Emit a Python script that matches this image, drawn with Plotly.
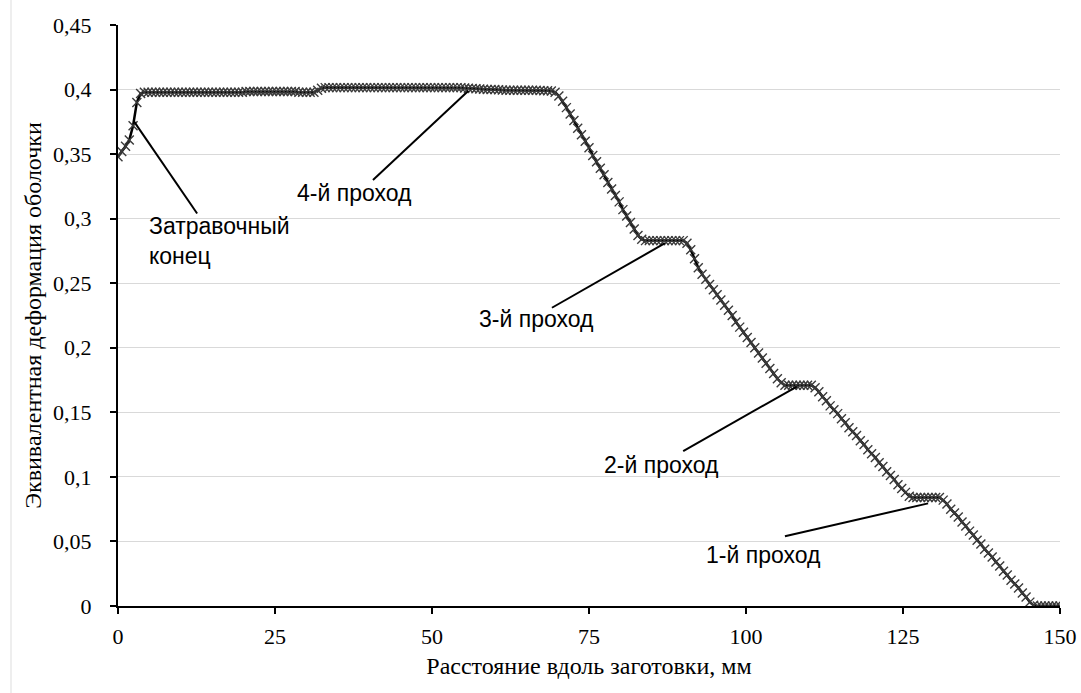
import plotly.graph_objects as go

# Distance along the billet, mm (sampling positions of the curve)
x_mm = [
    0.0, 0.6, 1.2, 1.8, 2.4, 3.0, 3.6, 4.2, 4.8, 5.4,
    6.0, 6.6, 7.2, 7.8, 8.4, 9.0, 9.6, 10.2, 10.8, 11.4,
    12.0, 12.6, 13.2, 13.8, 14.4, 15.0, 15.6, 16.2, 16.8, 17.4,
    18.0, 18.6, 19.2, 19.8, 20.4, 21.0, 21.6, 22.2, 22.8, 23.4,
    24.0, 24.6, 25.2, 25.8, 26.4, 27.0, 27.6, 28.2, 28.8, 29.4,
    30.0, 30.6, 31.2, 31.8, 32.4, 33.0, 33.6, 34.2, 34.8, 35.4,
    36.0, 36.6, 37.2, 37.8, 38.4, 39.0, 39.6, 40.2, 40.8, 41.4,
    42.0, 42.6, 43.2, 43.8, 44.4, 45.0, 45.6, 46.2, 46.8, 47.4,
    48.0, 48.6, 49.2, 49.8, 50.4, 51.0, 51.6, 52.2, 52.8, 53.4,
    54.0, 54.6, 55.2, 55.8, 56.4, 57.0, 57.6, 58.2, 58.8, 59.4,
    60.0, 60.6, 61.2, 61.8, 62.4, 63.0, 63.6, 64.2, 64.8, 65.4,
    66.0, 66.6, 67.2, 67.8, 68.4, 69.0, 69.6, 70.2, 70.8, 71.4,
    72.0, 72.6, 73.2, 73.8, 74.4, 75.0, 75.6, 76.2, 76.8, 77.4,
    78.0, 78.6, 79.2, 79.8, 80.4, 81.0, 81.6, 82.2, 82.8, 83.4,
    84.0, 84.6, 85.2, 85.8, 86.4, 87.0, 87.6, 88.2, 88.8, 89.4,
    90.0, 90.6, 91.2, 91.8, 92.4, 93.0, 93.6, 94.2, 94.8, 95.4,
    96.0, 96.6, 97.2, 97.8, 98.4, 99.0, 99.6, 100.2, 100.8, 101.4,
    102.0, 102.6, 103.2, 103.8, 104.4, 105.0, 105.6, 106.2, 106.8, 107.4,
    108.0, 108.6, 109.2, 109.8, 110.4, 111.0, 111.6, 112.2, 112.8, 113.4,
    114.0, 114.6, 115.2, 115.8, 116.4, 117.0, 117.6, 118.2, 118.8, 119.4,
    120.0, 120.6, 121.2, 121.8, 122.4, 123.0, 123.6, 124.2, 124.8, 125.4,
    126.0, 126.6, 127.2, 127.8, 128.4, 129.0, 129.6, 130.2, 130.8, 131.4,
    132.0, 132.6, 133.2, 133.8, 134.4, 135.0, 135.6, 136.2, 136.8, 137.4,
    138.0, 138.6, 139.2, 139.8, 140.4, 141.0, 141.6, 142.2, 142.8, 143.4,
    144.0, 144.6, 145.2, 145.8, 146.4, 147.0, 147.6, 148.2, 148.8, 149.4,
    150.0,
]

# Equivalent strain of the shell
strain = [
    0.348, 0.352, 0.356, 0.361, 0.372, 0.390, 0.397, 0.398, 0.398, 0.398,
    0.398, 0.398, 0.398, 0.398, 0.398, 0.398, 0.398, 0.398, 0.398, 0.398,
    0.398, 0.398, 0.398, 0.398, 0.398, 0.398, 0.398, 0.398, 0.398, 0.398,
    0.398, 0.398, 0.398, 0.398, 0.3985, 0.3985, 0.3985, 0.3985, 0.3985, 0.3985,
    0.3985, 0.3985, 0.3985, 0.3985, 0.3985, 0.3985, 0.3985, 0.3985, 0.398, 0.398,
    0.398, 0.398, 0.398, 0.3995, 0.401, 0.4015, 0.4015, 0.4015, 0.4015, 0.4015,
    0.4015, 0.4015, 0.4015, 0.4015, 0.4015, 0.4015, 0.4015, 0.4015, 0.4015, 0.4015,
    0.4015, 0.4015, 0.4015, 0.4015, 0.4015, 0.4015, 0.4015, 0.4015, 0.4015, 0.4015,
    0.4015, 0.4015, 0.4015, 0.4015, 0.4015, 0.4015, 0.4015, 0.4015, 0.4015, 0.4015,
    0.4015, 0.4015, 0.4012, 0.401, 0.4008, 0.4006, 0.4004, 0.4002, 0.400, 0.400,
    0.400, 0.3998, 0.3996, 0.3995, 0.3995, 0.3995, 0.3995, 0.3995, 0.3995, 0.3995,
    0.3995, 0.3995, 0.3993, 0.399, 0.399, 0.3988, 0.398, 0.395, 0.391, 0.386,
    0.381, 0.376, 0.370, 0.365, 0.360, 0.355, 0.349, 0.344, 0.339, 0.334,
    0.328, 0.323, 0.318, 0.313, 0.307, 0.302, 0.297, 0.292, 0.287, 0.284,
    0.283, 0.283, 0.283, 0.283, 0.283, 0.283, 0.283, 0.283, 0.283, 0.283,
    0.283, 0.281, 0.276, 0.269, 0.262, 0.257, 0.253, 0.249, 0.245, 0.241,
    0.237, 0.233, 0.229, 0.225, 0.220, 0.216, 0.212, 0.208, 0.204, 0.200,
    0.196, 0.192, 0.188, 0.184, 0.180, 0.176, 0.173, 0.171, 0.171, 0.171,
    0.171, 0.171, 0.171, 0.171, 0.171, 0.169, 0.166, 0.162, 0.159, 0.155,
    0.152, 0.149, 0.145, 0.142, 0.138, 0.135, 0.132, 0.128, 0.125, 0.121,
    0.118, 0.115, 0.111, 0.108, 0.104, 0.101, 0.098, 0.094, 0.091, 0.088,
    0.085, 0.084, 0.084, 0.084, 0.084, 0.084, 0.084, 0.084, 0.084, 0.082,
    0.079, 0.075, 0.072, 0.069, 0.065, 0.062, 0.058, 0.055, 0.051, 0.048,
    0.044, 0.041, 0.038, 0.034, 0.031, 0.027, 0.024, 0.020, 0.017, 0.014,
    0.010, 0.007, 0.003, 0.0005, 0.0, 0.0, 0.0, 0.0, 0.0, 0.0,
    0.0,
]

x_tickvals = [0, 25, 50, 75, 100, 125, 150]
x_ticktext = ["0", "25", "50", "75", "100", "125", "150"]
y_tickvals = [0, 0.05, 0.1, 0.15, 0.2, 0.25, 0.3, 0.35, 0.4, 0.45]
y_ticktext = ["0", "0,05", "0,1", "0,15", "0,2", "0,25", "0,3", "0,35", "0,4", "0,45"]

x_title = "Расстояние вдоль заготовки, мм"
y_title = "Эквивалентная деформация оболочки"

callout_text = ["Затравочный<br>конец", "4-й проход", "3-й проход", "2-й проход", "1-й проход"]

fig = go.Figure()
fig.add_trace(go.Scatter(
    x=x_mm, y=strain, mode="lines+markers",
    line=dict(color="black", width=2.5),
    marker=dict(symbol="x-thin", size=9, color="#3a3a3a",
                line=dict(width=1.4, color="#3a3a3a")),
    showlegend=False, hoverinfo="skip",
))

label_font = dict(family="Liberation Sans, Arial, sans-serif", size=23, color="black")

callouts = [
    # (text, text x, text y, xanchor, leader x0, y0, x1, y1)
    (callout_text[0], 4.6, 0.283, "left", 12.6, 0.304, 2.6, 0.375),
    (callout_text[1], 37.7, 0.320, "center", 40.6, 0.330, 55.8, 0.399),
    (callout_text[2], 66.7, 0.222, "center", 69.1, 0.231, 87.1, 0.281),
    (callout_text[3], 86.6, 0.109, "center", 90.0, 0.120, 108.1, 0.170),
    (callout_text[4], 102.8, 0.0395, "center", 106.2, 0.054, 129.0, 0.0795),
]

for text, tx, ty, xa, x0, y0, x1, y1 in callouts:
    fig.add_shape(type="line", x0=x0, y0=y0, x1=x1, y1=y1, xref="x", yref="y",
                  line=dict(color="black", width=2))
    fig.add_annotation(x=tx, y=ty, xref="x", yref="y", text=text, showarrow=False,
                       xanchor=xa, yanchor="middle", align="left", font=label_font)

# faint frame line near the left edge of the picture
fig.add_shape(type="line", xref="paper", yref="paper",
              x0=-(118 - 11) / 942, x1=-(118 - 11) / 942,
              y0=-(693 - 606) / 581, y1=606 / 581,
              line=dict(color="#dddddd", width=1))

serif = "Liberation Serif, Times New Roman, serif"

fig.update_layout(
    width=1081, height=693,
    margin=dict(l=118, r=21, t=25, b=87, autoexpand=False),
    paper_bgcolor="white", plot_bgcolor="white",
    font=dict(family=serif, size=22, color="black"),
    xaxis=dict(
        range=[0, 150], tickvals=x_tickvals, ticktext=x_ticktext,
        showgrid=False, zeroline=False, automargin=False,
        showline=True, linecolor="black", linewidth=2,
        ticks="outside", ticklen=6, tickwidth=2, tickcolor="black",
        tickfont=dict(family=serif, size=22, color="black"),
        ticklabelstandoff=4,
        title=dict(text=x_title, font=dict(family=serif, size=24, color="black"), standoff=9),
    ),
    yaxis=dict(
        range=[0, 0.45], tickvals=y_tickvals, ticktext=y_ticktext,
        showgrid=True, gridcolor="#d9d9d9", gridwidth=1, zeroline=False, automargin=False,
        showline=True, linecolor="black", linewidth=2,
        ticks="outside", ticklen=6, tickwidth=2, tickcolor="black",
        tickfont=dict(family=serif, size=22, color="black"),
        ticklabelstandoff=14,
        title=dict(text=y_title, font=dict(family=serif, size=24, color="black"), standoff=5),
    ),
)

# remove the default 8 px page margin so the figure fills the window exactly
fig.write_html(
    "out.html",
    config={"displayModeBar": False},
    post_script="document.body.style.margin='0';document.body.style.overflow='hidden';",
)
